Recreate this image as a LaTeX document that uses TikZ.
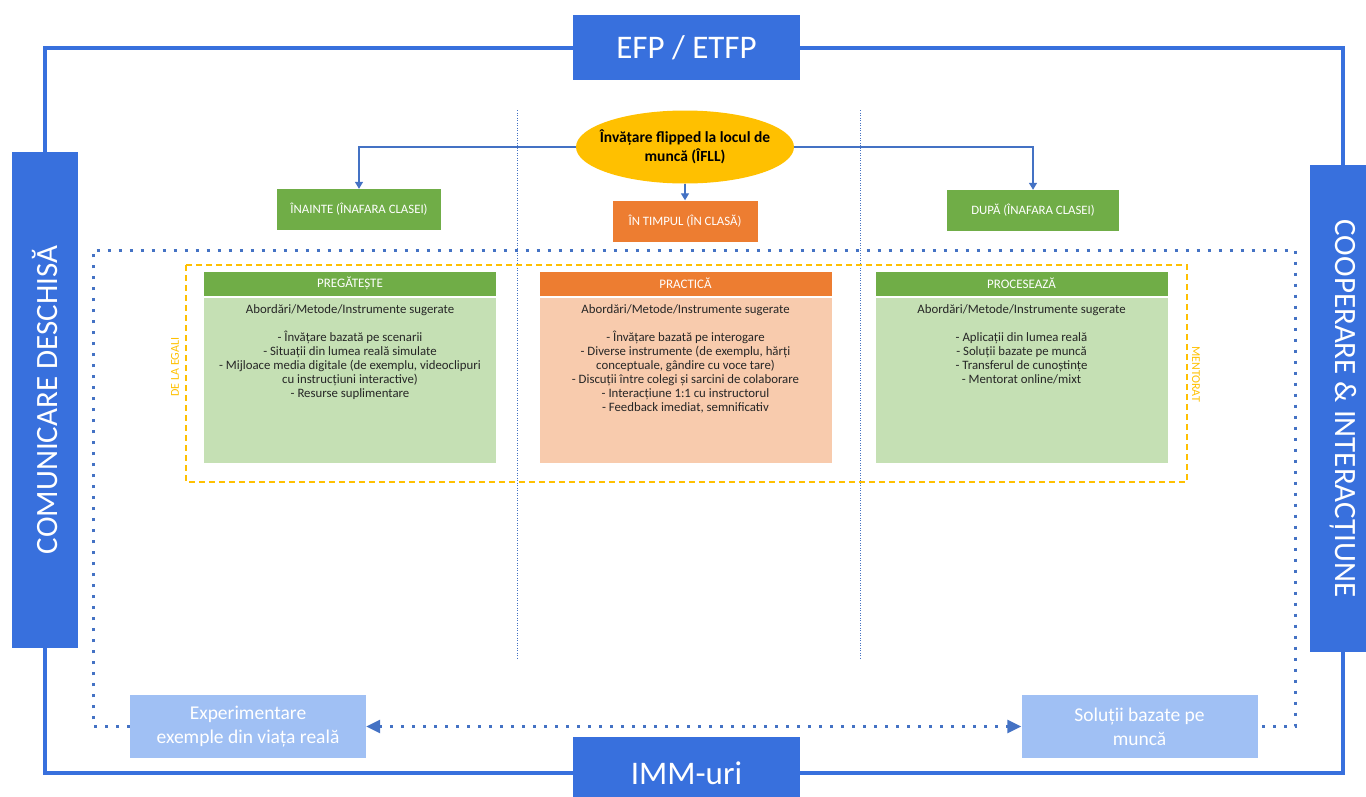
\documentclass[tikz,border=0pt]{standalone}
\usepackage{fontspec}
\setmainfont{Carlito}
\usetikzlibrary{arrows.meta,shapes.geometric,positioning}
\definecolor{frameblue}{RGB}{56,112,221}
\definecolor{arrowblue}{RGB}{68,114,196}
\definecolor{hdrgreen}{RGB}{112,173,71}
\definecolor{bodygreen}{RGB}{197,224,180}
\definecolor{hdrorange}{RGB}{237,125,49}
\definecolor{bodypeach}{RGB}{248,203,173}
\definecolor{gold}{RGB}{255,192,0}
\definecolor{paleblue}{RGB}{160,192,244}
\tikzset
{
    bluebox/.style = {rectangle, fill=frameblue, text=white, align=center, inner sep=0pt},
    endbox/.style = {bluebox, minimum width=227pt, minimum height=65pt, font=\fontsize{33}{38}\selectfont},
    sidebox/.style = {bluebox, minimum height=66pt, font=\fontsize{31}{36}\selectfont},
    flipnode/.style = {ellipse, fill=gold, align=center, minimum width=218pt, minimum height=73pt, inner xsep=-25pt, inner ysep=-12pt, font=\bfseries\fontsize{15.5}{19.5}\selectfont},
    phasenode/.style = {rectangle, text=white, minimum height=41pt, inner sep=0pt, font=\fontsize{12.8}{15}\selectfont},
    headnode/.style = {rectangle, text=white, minimum width=292pt, minimum height=24pt, inner sep=0pt, font=\fontsize{13}{15}\selectfont},
    bodynode/.style = {rectangle, minimum width=292pt, minimum height=165pt, inner sep=0pt},
    listnode/.style = {align=center, anchor=north, inner sep=0pt, text=black!85, font=\fontsize{12.8}{14}\selectfont},
    resultnode/.style = {rectangle, fill=paleblue, text=white, align=center, minimum width=236pt, minimum height=63pt, inner sep=0pt, font=\fontsize{19.5}{24}\selectfont},
    sidelabel/.style = {text=gold, inner sep=0pt, font=\fontsize{12}{14}\selectfont},
    frameline/.style = {draw=frameblue, line width=4pt},
    treeline/.style = {draw=arrowblue, line width=1.3pt, -{Triangle[width=8pt,length=7pt]}},
    guideline/.style = {draw=arrowblue, line width=0.8pt, dash pattern=on 1pt off 1.5pt},
    dotline/.style = {draw=arrowblue, line width=3pt, dash pattern=on 3pt off 8pt},
    peerframe/.style = {draw=gold, line width=2.5pt, dash pattern=on 6pt off 4pt}
}

\begin{document}
\begin{tikzpicture}
	[x=1pt, y=-1pt]
	\useasboundingbox (0,0) rectangle (1366,796);
	\clip (0,0) rectangle (1366,796);
	% column guides
	\coordinate (guideAtop) at (517,110);
	\coordinate (guideAbot) at (517,660);
	\coordinate (guideBtop) at (860,110);
	\coordinate (guideBbot) at (860,660);
	\draw[guideline] (guideAtop) -- (guideAbot);
	\draw[guideline] (guideBtop) -- (guideBbot);
	% outer frame
	\node[endbox] (efp) at (686.5,47.5) {EFP / ETFP};
	\node[endbox, minimum height=72pt] (imm) at (686.5,773) {IMM-uri};
	\node[sidebox, minimum width=496pt, rotate=90] (comm) at (45,400) {COMUNICARE DESCHISĂ};
	\node[sidebox, minimum width=487pt, rotate=-90] (coop) at (1343,408.5) {COOPERARE \& INTERACȚIUNE};
	\draw[frameline] (efp.west) -| (comm.east);
	\draw[frameline] (comm.west) |- (imm.west);
	\draw[frameline] (imm.east) -| (coop.east);
	\draw[frameline] (coop.west) |- (efp.east);
	% flipped learning and phases
	\node[flipnode] (flip) at (685,147) {Învățare flipped la locul de\\muncă (ÎFLL)};
	\node[phasenode, fill=hdrgreen, minimum width=164pt] (inainte) at (359,209.5) {ÎNAINTE (ÎNAFARA CLASEI)};
	\node[phasenode, fill=hdrorange, minimum width=145pt] (intimpul) at (685,221) {ÎN TIMPUL (ÎN CLASĂ)};
	\node[phasenode, fill=hdrgreen, minimum width=172pt] (dupa) at (1033,210.5) {DUPĂ (ÎNAFARA CLASEI)};
	\draw[treeline] (flip.west) -| (inainte.north);
	\draw[treeline] (flip.south) -- (intimpul.north);
	\draw[treeline] (flip.east) -| (dupa.north);
	% results and dotted loop
	\node[resultnode] (exp) at (248,726.5) {Experimentare\\exemple din viața reală};
	\node[resultnode] (sol) at (1139.5,726.5) {Soluții bazate pe\\muncă};
	\coordinate (loopnw) at (93,250);
	\coordinate (loopne) at (1295,250);
	\draw[dotline] (exp.west) -| (loopnw) -- (loopne) |- (sol.east);
	\draw[dotline, {Triangle[width=13pt,length=14pt]}-{Triangle[width=13pt,length=14pt]}] (exp.east) -- (sol.west);
	% peer / mentor frame
	\draw[peerframe] (186,265) rectangle (1187,482);
	\node[sidelabel, rotate=90] (peers) at (175,367) {DE LA EGALI};
	\node[sidelabel, rotate=-90] (mentor) at (1196,374) {MENTORAT};
	% panels
	\node[headnode, fill=hdrgreen] (prephead) at (350,283.5) {PREGĂTEȘTE};
	\node[bodynode, fill=bodygreen] (prepbody) at (350,380.5) {};
	\node[listnode] (preplist) at ([yshift=-7pt]prepbody.north) {Abordări/Metode/Instrumente sugerate\\[14pt]
		- Învățare bazată pe scenarii\\
		- Situații din lumea reală simulate\\
		- Mijloace media digitale (de exemplu, videoclipuri\\
		cu instrucțiuni interactive)\\
		- Resurse suplimentare};
	\node[headnode, fill=hdrorange] (practhead) at (685.5,283.5) {PRACTICĂ};
	\node[bodynode, fill=bodypeach] (practbody) at (685.5,380.5) {};
	\node[listnode] (practlist) at ([yshift=-7pt]practbody.north) {Abordări/Metode/Instrumente sugerate\\[14pt]
		- Învățare bazată pe interogare\\
		- Diverse instrumente (de exemplu, hărți\\
		conceptuale, gândire cu voce tare)\\
		- Discuții între colegi și sarcini de colaborare\\
		- Interacțiune 1:1 cu instructorul\\
		- Feedback imediat, semnificativ};
	\node[headnode, fill=hdrgreen] (prochead) at (1021.5,283.5) {PROCESEAZĂ};
	\node[bodynode, fill=bodygreen] (procbody) at (1021.5,380.5) {};
	\node[listnode] (proclist) at ([yshift=-7pt]procbody.north) {Abordări/Metode/Instrumente sugerate\\[14pt]
		- Aplicații din lumea reală\\
		- Soluții bazate pe muncă\\
		- Transferul de cunoștințe\\
		- Mentorat online/mixt};
\end{tikzpicture}
\end{document}
